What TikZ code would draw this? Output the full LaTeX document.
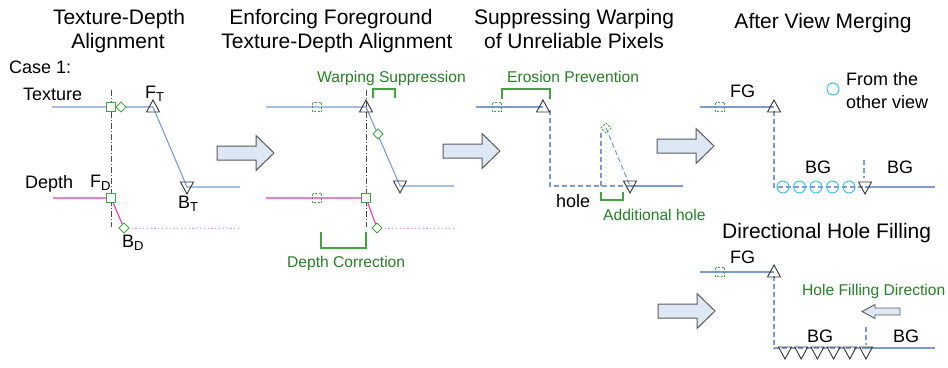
\documentclass[tikz,border=0pt]{standalone}
\usepackage{fontspec}
\setmainfont{Liberation Sans}
\definecolor{texblue}{RGB}{125,155,210}
\definecolor{depmag}{RGB}{228,60,170}
\definecolor{deppink}{RGB}{240,150,190}
\definecolor{grn}{RGB}{70,160,70}
\definecolor{grntext}{RGB}{40,125,40}
\definecolor{ringcyan}{RGB}{70,190,230}
\definecolor{arrowfill}{RGB}{222,232,245}
\definecolor{arrowline}{RGB}{90,90,90}
\newcommand\lowsub[1]{\raisebox{-3pt}{\fontsize{13}{13}\selectfont #1}}
\tikzset{
  tex/.style={draw=texblue, line width=1.1pt},
  texdash/.style={draw=texblue, line width=1.1pt, dash pattern=on 5pt off 3pt},
  dep/.style={draw=depmag, line width=1.1pt},
  depdot/.style={draw=deppink, line width=1pt, dash pattern=on 1.2pt off 2.6pt},
  axisdd/.style={draw=gray!60!black, line width=0.7pt, dash pattern=on 6pt off 2pt on 1pt off 2pt},
  bracket/.style={draw=grn, line width=1.1pt},
  lbl/.style={font=\fontsize{18}{21}\selectfont, inner sep=0pt},
  ttl/.style={font=\fontsize{21}{24}\selectfont, inner sep=0pt},
  glbl/.style={font=\fontsize{15.6}{18}\selectfont, text=grntext, inner sep=0pt},
  bigarrow/.style={draw=arrowline, fill=arrowfill, line width=1pt, line join=miter},
  pics/sq/.style={code={\draw[draw=grn, fill=white, line width=0.9pt] (-4.5,-4.5) rectangle (4.5,4.5);}},
  pics/dsq/.style={code={\draw[draw=grn, line width=0.9pt, dash pattern=on 2pt off 1.5pt] (-4.5,-4.5) rectangle (4.5,4.5);}},
  pics/dia/.style={code={\draw[draw=grn, fill=white, line width=0.9pt] (0,-5) -- (5,0) -- (0,5) -- (-5,0) -- cycle;}},
  pics/ddia/.style={code={\draw[draw=grn, line width=0.9pt, dash pattern=on 2pt off 1.5pt] (0,-5) -- (5,0) -- (0,5) -- (-5,0) -- cycle;}},
  pics/tup/.style={code={\draw[draw=black!80, line width=0.9pt, line join=miter] (-6.5,5) -- (6.5,5) -- (0,-7) -- cycle;}},
  pics/tdn/.style={code={\draw[draw=black!80, line width=0.9pt, line join=miter] (-6.5,-5) -- (6.5,-5) -- (0,7) -- cycle;}},
  pics/ring/.style={code={\draw[draw=ringcyan, line width=1pt] (0,0) circle (6);}},
  pics/bigarr/.style={code={\draw[bigarrow] (0,-7) -- (39,-7) -- (39,-17.5) -- (57,0) -- (39,17.5) -- (39,7) -- (0,7) -- cycle;}},
  pics/smallarr/.style={code={\draw[bigarrow, line width=0.9pt] (0,0) -- (13,-7) -- (13,-3.5) -- (38,-3.5) -- (38,3.5) -- (13,3.5) -- (13,7) -- cycle;}},
}
\begin{document}
\begin{tikzpicture}[x=1pt, y=-1pt]
\useasboundingbox (0,0) rectangle (948,367);

% ---------- titles ----------
\node[ttl, anchor=base] (h1a) at (119,24) {Texture-Depth};
\node[ttl, anchor=base] (h1b) at (118,48) {Alignment};
\node[ttl, anchor=base] (h2a) at (331,24) {Enforcing Foreground};
\node[ttl, anchor=base] (h2b) at (337,48) {Texture-Depth Alignment};
\node[ttl, anchor=base] (h3a) at (574,24) {Suppressing Warping};
\node[ttl, anchor=base] (h3b) at (574,48) {of Unreliable Pixels};
\node[ttl, anchor=base] (h4) at (823,28) {After View Merging};
\node[ttl, anchor=base west] (h5) at (722,238) {Directional Hole Filling};

% ---------- panel 1: texture-depth alignment ----------
\node[lbl, anchor=base west] (case) at (9,73) {Case 1:};
\node[lbl, anchor=base west] (ltex) at (23,100) {Texture};
\node[lbl, anchor=base west] (ldep) at (25,188) {Depth};
\coordinate (t1s) at (52,107);
\coordinate (t1f) at (153,107);
\coordinate (t1b) at (187,187);
\coordinate (t1e) at (240,187);
\coordinate (d1s) at (53,198);
\coordinate (d1f) at (111,198);
\coordinate (d1b) at (124,228);
\coordinate (d1e) at (240,228);
\coordinate (a1t) at (111,90);
\coordinate (a1b) at (111,227);
\draw[axisdd] (a1t) -- (a1b);
\draw[tex] (t1s) -- (t1f) -- (t1b) -- (t1e);
\draw[dep] (d1s) -- (d1f) -- (d1b);
\draw[depdot] (d1b) -- (d1e);
\pic at (110.5,107) {sq};
\pic at (121,107) {dia};
\pic at (t1f) {tup};
\pic at (t1b) {tdn};
\pic at (d1f) {sq};
\pic at (d1b) {dia};
\node[lbl, anchor=base west] (lft) at (145,98) {F\lowsub{T}};
\node[lbl, anchor=base west] (lbt) at (178,208) {B\lowsub{T}};
\node[lbl, anchor=base west] (lfd) at (90,187) {F\lowsub{D}};
\node[lbl, anchor=base west] (lbd) at (122,247) {B\lowsub{D}};

\pic at (217,153) {bigarr};

% ---------- panel 2: enforcing foreground alignment ----------
\coordinate (t2s) at (266,107);
\coordinate (t2f) at (366,107);
\coordinate (t2b) at (400,186);
\coordinate (t2e) at (454,186);
\coordinate (d2s) at (266,198);
\coordinate (d2f) at (366,198);
\coordinate (d2b) at (377,228);
\coordinate (d2e) at (454,228);
\coordinate (a2t) at (366,90);
\coordinate (a2b) at (366,227);
\draw[axisdd] (a2t) -- (a2b);
\draw[tex] (t2s) -- (t2f) -- (t2b) -- (t2e);
\draw[dep] (d2s) -- (d2f) -- (d2b);
\draw[depdot] (d2b) -- (d2e);
\pic at (317,107) {dsq};
\pic at (317,198) {dsq};
\pic at (t2f) {tup};
\pic at (378,134) {dia};
\pic at (t2b) {tdn};
\pic at (d2f) {sq};
\pic at (d2b) {dia};
\draw[bracket] (373,98) -- (373,89) -- (395,89) -- (395,98);
\draw[bracket] (321,232) -- (321,248) -- (366,248) -- (366,232);
\node[glbl, anchor=base west] (lws) at (317,82) {Warping Suppression};
\node[glbl, anchor=base west] (ldc) at (287,267) {Depth Correction};

\pic at (443,151) {bigarr};

% ---------- panel 3: suppressing warping ----------
\coordinate (t3s) at (476,107);
\coordinate (t3f) at (543,107);
\coordinate (t3c) at (550,110);
\coordinate (t3h) at (550,186);
\coordinate (t3b) at (630,186);
\coordinate (t3e) at (683,186);
\coordinate (t3p) at (606,128);
\coordinate (t3q) at (601,133);
\coordinate (t3r) at (601,186);
\draw[tex] (t3s) -- (t3f);
\draw[texdash] (t3c) -- (t3h) -- (t3b);
\draw[texdash] (t3q) -- (t3r);
\draw[texdash] (t3p) -- (t3b);
\draw[tex] (t3b) -- (t3e);
\pic at (497,107) {dsq};
\pic at (t3f) {tup};
\pic at (t3b) {tdn};
\pic at (t3p) {ddia};
\draw[bracket] (502,99) -- (502,89) -- (550,89) -- (550,99);
\draw[bracket] (601,192) -- (601,200) -- (623,200) -- (623,192);
\node[glbl, anchor=base west] (lep) at (507,82) {Erosion Prevention};
\node[lbl, anchor=base west] (lhole) at (556,207) {hole};
\node[glbl, anchor=base west] (lah) at (603,220) {Additional hole};

\pic at (657,146) {bigarr};

% ---------- panel 4: after view merging ----------
\coordinate (t4s) at (700,107);
\coordinate (t4f) at (774,107);
\coordinate (t4c) at (774,111);
\coordinate (t4h) at (774,187);
\coordinate (t4b) at (865,187);
\coordinate (t4e) at (935,187);
\draw[tex] (t4s) -- (t4f);
\draw[texdash] (t4c) -- (t4h) -- (t4b);
\draw[tex] (t4b) -- (t4e);
\draw[texdash] (864,160) -- (864,178);
\pic at (720,107) {dsq};
\pic at (t4f) {tup};
\foreach \i in {0,...,4} { \pic at (783+16.5*\i,187) {ring}; }
\pic at (t4b) {tdn};
\node[lbl, anchor=base west] (lfg1) at (730,97) {FG};
\pic at (833,89) {ring};
\node[lbl, anchor=base west] (lfr1) at (846,85) {From the};
\node[lbl, anchor=base west] (lfr2) at (846,108) {other view};
\node[lbl, anchor=base west] (lbg1) at (805,173) {BG};
\node[lbl, anchor=base west] (lbg2) at (887,173) {BG};

% ---------- panel 5: directional hole filling ----------
\pic at (658,311) {bigarr};
\coordinate (t5s) at (700,272);
\coordinate (t5f) at (774,272);
\coordinate (t5c) at (774,276);
\coordinate (t5h) at (774,348);
\coordinate (t5b) at (866,348);
\coordinate (t5e) at (935,348);
\draw[tex] (t5s) -- (t5f);
\draw[texdash] (t5c) -- (t5h) -- (t5b);
\draw[tex] (t5b) -- (t5e);
\draw[texdash] (866,327) -- (866,345);
\pic at (720,272) {dsq};
\pic at (t5f) {tup};
\foreach \i in {0,...,5} { \pic at (785+16.2*\i,352) {tdn}; }
\node[lbl, anchor=base west] (lfg2) at (730,263) {FG};
\node[glbl, anchor=base west] (lhf) at (802,295) {Hole Filling Direction};
\pic at (862,311.5) {smallarr};
\node[lbl, anchor=base west] (lbg3) at (807,342) {BG};
\node[lbl, anchor=base west] (lbg4) at (893,342) {BG};
\end{tikzpicture}
\end{document}
